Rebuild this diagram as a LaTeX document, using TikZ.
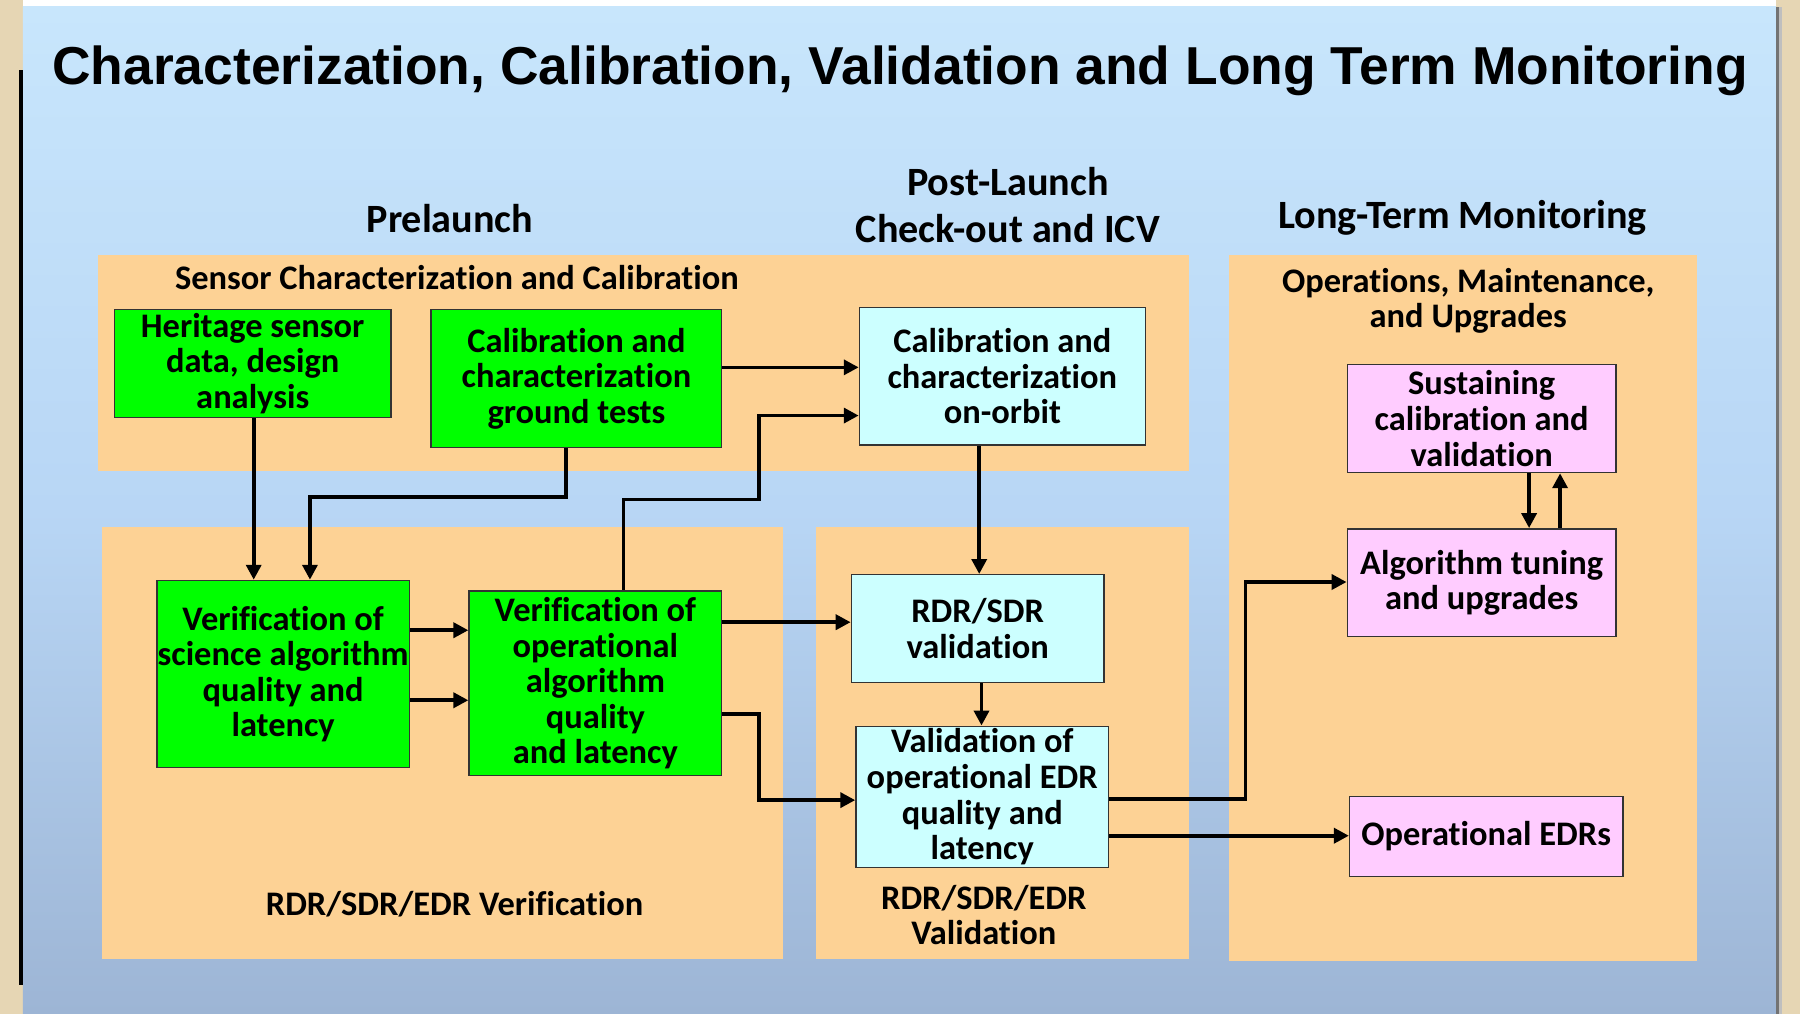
\documentclass[tikz,border=0pt]{standalone}
\usepackage{fontspec}
\setmainfont{Carlito}[Ligatures=NoCommon]
\newfontfamily\titlefont{Liberation Sans}
\usetikzlibrary{arrows.meta}

\definecolor{parch}{RGB}{230,214,180}
\definecolor{paneltop}{RGB}{200,230,252}
\definecolor{panelmid}{RGB}{184,214,245}
\definecolor{panelbot}{RGB}{157,181,213}
\definecolor{orangebg}{RGB}{253,210,149}
\definecolor{grn}{RGB}{0,255,0}
\definecolor{cyn}{RGB}{204,255,255}
\definecolor{pnk}{RGB}{255,204,255}

\begin{document}
\begin{tikzpicture}[x=1pt,y=-1pt,
  boxbase/.style={draw=black!80, line width=1.3pt, align=center, inner sep=0pt,
    font=\bfseries\fontsize{30}{31}\selectfont, anchor=north west},
  greenbox/.style={boxbase, fill=grn},
  cyanbox/.style={boxbase, fill=cyn},
  pinkbox/.style={boxbase, fill=pnk},
  region/.style={fill=orangebg, draw=none},
  hdr/.style={font=\bfseries\fontsize{35}{41}\selectfont, align=center, inner sep=0pt},
  lbl/.style={font=\bfseries\fontsize{30}{31}\selectfont, align=center, inner sep=0pt},
  arr/.style={line width=3.2pt, -{Triangle[length=13pt,width=13pt]}}
]
\useasboundingbox (0,0) rectangle (1568,883);

% parchment backdrop and slide panel
\fill[parch] (0,0) rectangle (1568,883);
\fill[white] (20,0) rectangle (1547,6);
\shade[top color=paneltop, bottom color=panelbot, middle color=panelmid] (20,6) rectangle (1547,883);
\fill[black!55] (1547,6) rectangle (1549.5,883);
\fill[black!25] (1549.5,6) rectangle (1552,883);
\fill[black] (16.5,61) rectangle (20,858);

% title
\node[font=\titlefont\bfseries\fontsize{46.5}{50}\selectfont, inner sep=0pt] (title) at (784,62)
  {Characterization, Calibration, Validation and Long Term Monitoring};

% phase regions
\fill[region] (85,222) rectangle (1036,410);
\fill[region] (89,459) rectangle (682,835);
\fill[region] (711,459) rectangle (1036,835);
\fill[region] (1071,222) rectangle (1478,837);

% headings
\node[hdr] (pre) at (392,190) {Prelaunch};
\node[hdr] (post) at (878,179) {Post-Launch\\Check-out and ICV};
\node[hdr] (ltm) at (1274,190) {Long-Term Monitoring};
\node[lbl] (scc) at (398,242) {Sensor Characterization and Calibration};
\node[lbl] (omu) at (1279,262) {Operations, Maintenance,\\and Upgrades};
\node[lbl] (ver) at (396,788) {RDR/SDR/EDR Verification};
\node[lbl] (val) at (857,797) {RDR/SDR/EDR\\Validation};

% process boxes
\node[greenbox, minimum width=241pt, minimum height=94pt] (her) at (99,269)
  {Heritage sensor\\data, design\\analysis};
\node[greenbox, minimum width=253pt, minimum height=120pt] (calg) at (375,269)
  {Calibration and\\characterization\\ground tests};
\node[cyanbox, minimum width=249pt, minimum height=120pt] (corb) at (748,267)
  {Calibration and\\characterization\\on-orbit};
\node[greenbox, minimum width=220pt, minimum height=163pt] (versci) at (136,505)
  {Verification of\\science algorithm\\quality and\\latency};
\node[greenbox, minimum width=220pt, minimum height=161pt] (verop) at (408,514)
  {Verification of\\operational\\algorithm\\quality\\and latency};
\node[cyanbox, minimum width=220pt, minimum height=94pt] (rdr) at (741,500)
  {RDR/SDR\\validation};
\node[cyanbox, minimum width=220pt, minimum height=123pt] (vedr) at (745,632)
  {Validation of\\operational EDR\\quality and\\latency};
\node[pinkbox, minimum width=234pt, minimum height=94pt] (sus) at (1173,317)
  {Sustaining\\calibration and\\validation};
\node[pinkbox, minimum width=234pt, minimum height=94pt] (alg) at (1173,460)
  {Algorithm tuning\\and upgrades};
\node[pinkbox, minimum width=238pt, minimum height=70pt] (opedr) at (1175,693)
  {Operational EDRs};

% routing points
\coordinate (k1) at (270,433);
\coordinate (k2) at (543,435);
\coordinate (k3) at (661,435);
\coordinate (k4) at (661,362);
\coordinate (k5) at (661,622);
\coordinate (k6) at (661,697);
\coordinate (k7) at (1085,696);
\coordinate (k8) at (1085,507);

% connectors
\draw[arr] (221,0 |- her.south) -- (221,0 |- versci.north);
\draw[arr] (493,0 |- calg.south) |- (k1) -- (k1 |- versci.north);
\draw[arr] (calg.east |- 0,320) -- (corb.west |- 0,320);
\draw[arr] (k2 |- verop.north) -- (k2) -- (k3) -- (k4) -- (corb.west |- k4);
\draw[arr] (853,0 |- corb.south) -- (853,0 |- rdr.north);
\draw[arr] (versci.east |- 0,549) -- (verop.west |- 0,549);
\draw[arr] (versci.east |- 0,610) -- (verop.west |- 0,610);
\draw[arr] (verop.east |- 0,542) -- (rdr.west |- 0,542);
\draw[arr] (verop.east |- k5) -- (k5) -- (k6) -- (vedr.west |- k6);
\draw[arr] (855,0 |- rdr.south) -- (855,0 |- vedr.north);
\draw[arr] (vedr.east |- k7) -- (k7) -- (k8) -- (alg.west |- k8);
\draw[arr] (vedr.east |- 0,728) -- (opedr.west |- 0,728);
\draw[arr] (1332,0 |- sus.south) -- (1332,0 |- alg.north);
\draw[arr] (1359,0 |- alg.north) -- (1359,0 |- sus.south);
\end{tikzpicture}
\end{document}
